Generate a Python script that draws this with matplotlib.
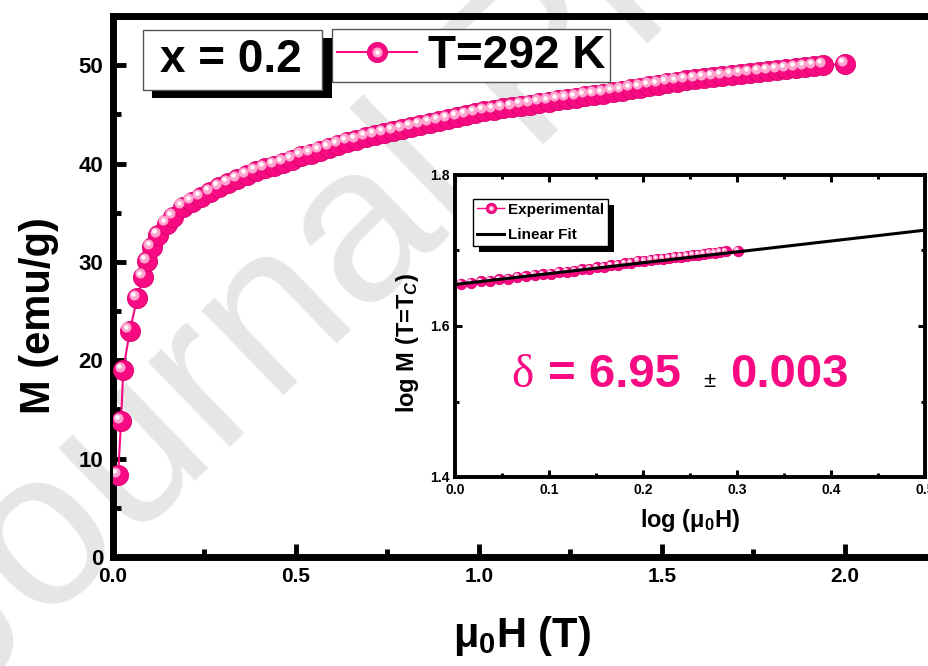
import numpy as np
import matplotlib.pyplot as plt
from matplotlib.patches import Rectangle
from matplotlib.transforms import offset_copy, IdentityTransform
from matplotlib.ticker import MultipleLocator
from matplotlib.legend_handler import HandlerTuple

plt.rcParams['font.family'] = ['Liberation Sans', 'DejaVu Sans']
plt.rcParams['font.weight'] = 'bold'
plt.rcParams['mathtext.fontset'] = 'custom'
plt.rcParams['mathtext.rm'] = 'Liberation Sans:bold'
plt.rcParams['mathtext.bf'] = 'Liberation Sans:bold'
plt.rcParams['mathtext.it'] = 'Liberation Sans:bold:italic'

# M(H) isotherm at 292 K, x = 0.2
field = [0.014, 0.022, 0.028, 0.046, 0.066, 0.083, 0.093, 0.106, 0.124, 0.147, 0.165, 0.19,
         0.215, 0.24, 0.265, 0.29, 0.315, 0.34, 0.365, 0.39, 0.415, 0.44, 0.465, 0.49,
         0.515, 0.54, 0.565, 0.59, 0.615, 0.64, 0.665, 0.69, 0.715, 0.74, 0.765, 0.79,
         0.815, 0.84, 0.865, 0.89, 0.915, 0.94, 0.965, 0.99,
         1.015, 1.04, 1.065, 1.09, 1.115, 1.14, 1.165, 1.19, 1.215, 1.24, 1.265, 1.29,
         1.315, 1.34, 1.365, 1.39, 1.415, 1.44, 1.465, 1.49,
         1.515, 1.54, 1.565, 1.59, 1.615, 1.64, 1.665, 1.69, 1.715, 1.74, 1.765, 1.79,
         1.815, 1.84, 1.865, 1.89, 1.915, 1.94, 2.0]
moment = [8.3, 13.8, 19.0, 23.0, 26.3, 28.5, 30.1, 31.5, 32.7, 33.9, 34.6, 35.6,
          36.1, 36.6, 37.1, 37.6, 38.0, 38.4, 38.8, 39.2, 39.5, 39.8, 40.1, 40.4,
          40.8, 41.0, 41.3, 41.6, 41.9, 42.2, 42.4, 42.7, 42.9, 43.1, 43.3, 43.5,
          43.7, 43.9, 44.1, 44.3, 44.5, 44.7, 44.9, 45.1,
          45.3, 45.4, 45.6, 45.7, 45.9, 46.0, 46.2, 46.3, 46.5, 46.6, 46.7, 46.9,
          47.0, 47.1, 47.3, 47.4, 47.6, 47.7, 47.9, 48.0,
          48.2, 48.3, 48.5, 48.6, 48.7, 48.8, 48.9, 49.0, 49.1, 49.2, 49.3, 49.4,
          49.5, 49.6, 49.7, 49.8, 49.9, 50.0, 50.1]

# critical isotherm fit: log M = intercept + log(H) / delta
delta = 6.95
delta_err = 0.003
fit_intercept = 1.655
fit_x = [0.0, 0.5]

PINK = '#F70A82'

field = np.array(field)
moment = np.array(moment)
hi = field >= 0.99
log_h = np.log10(field[hi])
log_m = np.log10(moment[hi])
fit_y = [fit_intercept + v / delta for v in fit_x]

fig = plt.figure(figsize=(9.29, 6.66), dpi=100)
W, H = 929, 666


def fig_box(x0, y0, x1, y1):
    # pixel box (origin top-left) -> figure fraction rect
    return [x0 / W, 1 - y1 / H, (x1 - x0) / W, (y1 - y0) / H]


def spheres(a, x, y, ms, lw, z=3):
    base, = a.plot(x, y, '-', color=PINK, lw=lw, marker='o', ms=ms, mfc=PINK,
                   mec='#DA006E', mew=0.6, zorder=z)
    tr1 = offset_copy(a.transData, fig=fig, x=-ms * 0.17, y=ms * 0.17, units='points')
    hl, = a.plot(x, y, ls='none', marker='o', ms=ms * 0.5, mfc='#FFA3CF', mec='none',
                 transform=tr1, zorder=z + 0.1)
    tr2 = offset_copy(a.transData, fig=fig, x=-ms * 0.2, y=ms * 0.2, units='points')
    wh, = a.plot(x, y, ls='none', marker='o', ms=ms * 0.22, mfc='white', mec='none',
                 transform=tr2, zorder=z + 0.2)
    return base, hl, wh


# watermark
fig.text(-38 / W, 1 - 706 / H, 'Journal Pre-proof', rotation=44, rotation_mode='anchor',
         ha='left', va='baseline', fontsize=160, fontweight='normal', color='#E6E6E6',
         zorder=-10)

# main panel
ax = fig.add_axes(fig_box(113, 16, 936.5, 557))
ax.set_facecolor('none')
main_handles = spheres(ax, field, moment, ms=14.5, lw=1.5)
ax.set_xlim(0, 2.25)
ax.set_ylim(0, 55)
ax.xaxis.set_major_locator(MultipleLocator(0.5))
ax.xaxis.set_minor_locator(MultipleLocator(0.25))
ax.yaxis.set_major_locator(MultipleLocator(10))
ax.yaxis.set_minor_locator(MultipleLocator(5))
ax.xaxis.set_major_formatter(lambda v, p: f'{v:.1f}')
for s in ax.spines.values():
    s.set_linewidth(5)
ax.spines['right'].set_visible(False)
ax.tick_params(which='both', direction='in', width=3.5, top=False, right=False)
ax.tick_params(axis='y', labelsize=16)
ax.tick_params(axis='x', labelsize=15)
ax.tick_params(which='major', length=9.5, pad=7)
ax.tick_params(which='minor', length=6)
ax.set_xlabel('μ$_{0}$H (T)', fontsize=30, fontweight='bold')
ax.set_ylabel('M (emu/g)', fontsize=30, fontweight='bold')
ax.xaxis.set_label_coords(0.496, -0.105)
ax.yaxis.set_label_coords(-0.066, 0.447)

leg = ax.legend([main_handles], ['T=292 K'], handler_map={tuple: HandlerTuple(ndivide=1)},
                loc='upper left', bbox_to_anchor=(332 / W, 1 - 29 / H),
                bbox_transform=fig.transFigure, borderaxespad=0, borderpad=0.1,
                handlelength=1.75, handletextpad=0.25, fancybox=False, framealpha=1,
                edgecolor='#555555', prop={'size': 33, 'weight': 'bold'}, numpoints=1)
leg.get_frame().set_linewidth(1.0)

# "x = 0.2" box with black shadow
fig.add_artist(Rectangle((152 / W, 1 - 98 / H), 180 / W, 60 / H, transform=fig.transFigure,
                         facecolor='black', edgecolor='none', zorder=5))
fig.add_artist(Rectangle((143 / W, 1 - 90 / H), 179 / W, 60 / H, transform=fig.transFigure,
                         facecolor='white', edgecolor='#555555', lw=1.0, zorder=5.1))
fig.text(231 / W, 1 - 60 / H, 'x = 0.2', ha='center', va='center', fontsize=33,
         fontweight='bold', zorder=6)

# inset
axin = fig.add_axes(fig_box(455, 175, 925, 477))
axin.set_facecolor('white')
exp_handles = spheres(axin, log_h, log_m, ms=7.5, lw=1.0, z=2)
fit_line, = axin.plot(fit_x, fit_y, color='black', lw=2.2, zorder=4)
axin.set_xlim(0, 0.5)
axin.set_ylim(1.4, 1.8)
axin.xaxis.set_major_locator(MultipleLocator(0.1))
axin.xaxis.set_minor_locator(MultipleLocator(0.05))
axin.yaxis.set_major_locator(MultipleLocator(0.2))
axin.yaxis.set_minor_locator(MultipleLocator(0.1))
axin.xaxis.set_major_formatter(lambda v, p: f'{v:.1f}')
axin.yaxis.set_major_formatter(lambda v, p: f'{v:.1f}')
for s in axin.spines.values():
    s.set_linewidth(2.8)
axin.tick_params(which='both', direction='in', width=2.2, labelsize=10, top=True, right=True)
axin.tick_params(which='major', length=5, pad=4)
axin.tick_params(which='minor', length=3)
axin.set_xlabel('log (μ$_{0}$H)', fontsize=17, fontweight='bold')
axin.set_ylabel('log M (T=T$_{C}$)', fontsize=17, fontweight='bold')
axin.xaxis.set_label_coords(0.5, -0.1)
axin.yaxis.set_label_coords(-0.072, 0.444)

leg_in = axin.legend([exp_handles, fit_line], ['Experimental', 'Linear Fit'],
                     handler_map={tuple: HandlerTuple(ndivide=1)}, loc='upper left',
                     bbox_to_anchor=((473 - 455) / 470, (477 - 199) / 302), borderaxespad=0,
                     borderpad=0.25, labelspacing=0.75, handlelength=1.8, handletextpad=0.25,
                     fancybox=False, framealpha=1, edgecolor='black',
                     prop={'size': 11, 'weight': 'bold'}, numpoints=1)
leg_in.get_frame().set_linewidth(1.0)

# delta annotation
ty = (477 - 387) / 302
axin.text((511 - 455) / 470, ty, 'δ', transform=axin.transAxes, color=PINK, fontsize=34,
          fontweight='normal', family=['Liberation Serif', 'DejaVu Serif'], ha='left', va='baseline')
axin.text((548 - 455) / 470, ty, f'= {delta:.2f}', transform=axin.transAxes, color=PINK,
          fontsize=34, fontweight='bold', ha='left', va='baseline')
axin.text((709 - 455) / 470, ty, '±', transform=axin.transAxes, color='black', fontsize=16,
          fontweight='normal', ha='center', va='baseline')
axin.text((730 - 455) / 470, ty, f'{delta_err:.3f}', transform=axin.transAxes, color=PINK,
          fontsize=34, fontweight='bold', ha='left', va='baseline')

# black drop shadow behind inset legend
fig.canvas.draw()
bb = leg_in.get_frame().get_window_extent()
axin.add_artist(Rectangle((bb.x0 + 6, bb.y0 - 6), bb.width, bb.height,
                          transform=IdentityTransform(), facecolor='black',
                          edgecolor='none', zorder=4.5, clip_on=False))

fig.savefig('out.png', dpi=100)
